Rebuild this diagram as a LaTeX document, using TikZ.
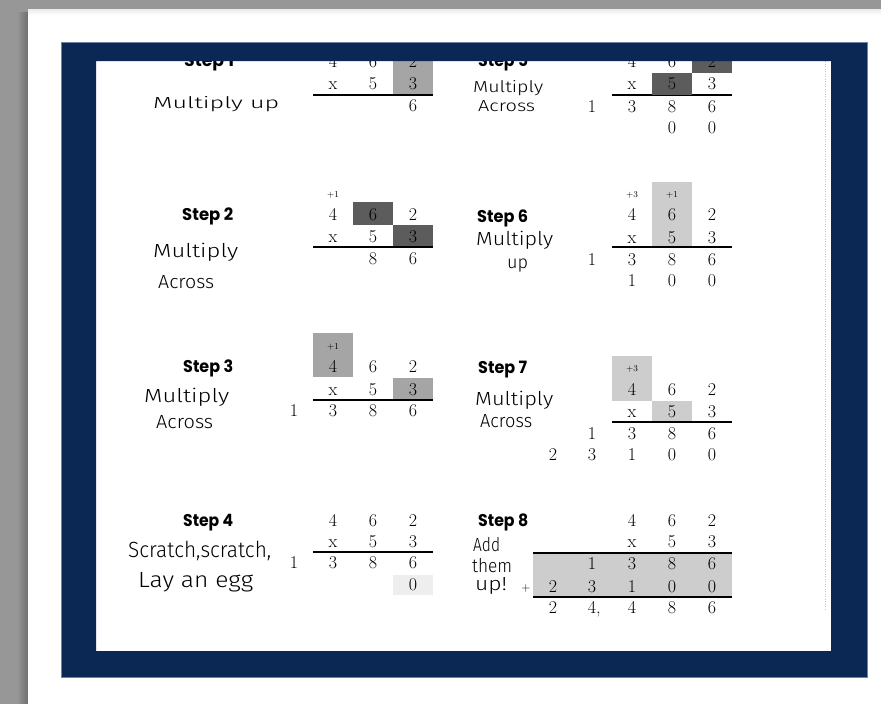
\documentclass[tikz,border=0pt]{standalone}
\usepackage{fontspec}
\usepackage{graphicx}
\setmainfont{Latin Modern Roman}
\newfontfamily\handfont{Fira Sans Light}
\newfontfamily\stepfont{Poppins}
\definecolor{navy}{RGB}{11,39,84}
\definecolor{navyedge}{RGB}{110,130,165}
\definecolor{bggray}{RGB}{151,151,151}
\definecolor{shadowgray}{RGB}{110,110,110}
\definecolor{darkbox}{RGB}{92,92,92}
\definecolor{midbox}{RGB}{165,165,165}
\definecolor{lightbox}{RGB}{205,205,205}
\definecolor{faintbox}{RGB}{238,238,238}
\newcommand{\hw}[2]{\resizebox{#1pt}{\height}{#2}}
\tikzset{
  dig/.style={anchor=base, inner sep=0pt, font=\fontsize{18}{20}\selectfont},
  carry/.style={anchor=center, inner sep=0pt, font=\fontsize{9}{10}\selectfont},
  steplabel/.style={anchor=base west, inner sep=0pt, font=\stepfont\bfseries\fontsize{17}{19}\selectfont},
  hand/.style={anchor=base west, inner sep=0pt, font=\handfont\fontsize{#1}{#1}\selectfont},
  underline/.style={line width=1.1pt, black},
  cellbox/.style={fill=#1, draw=none},
}
\begin{document}
\begin{tikzpicture}[x=1pt,y=-1pt]
\useasboundingbox (0,0) rectangle (881,704);
% background and page
\fill[bggray] (0,0) rectangle (881,704);
\shade[left color=bggray, right color=shadowgray] (17,12) rectangle (28,704);
\fill[white] (28,9) rectangle (881,704);
\shade[top color=black!8, bottom color=white] (28,9) rectangle (881,15);
% faint scan line on the right
\draw[black!25, line width=0.5pt, dotted] (825,61) -- (825,610);

% ---------- shaded cells ----------
% step 1
\fill[cellbox=midbox] (393,48) rectangle (433,96);
% step 2
\fill[cellbox=darkbox] (353,202) rectangle (393,225);
\fill[cellbox=darkbox] (393,225) rectangle (433,247);
% step 3
\fill[cellbox=midbox] (313,333) rectangle (353,377);
\fill[cellbox=midbox] (393,378) rectangle (433,400);
% step 4
\fill[cellbox=faintbox] (393,575) rectangle (433,595);
% step 5
\draw[underline] (612,95) -- (732,95);
\fill[cellbox=darkbox] (692,48) rectangle (732,73);
\fill[cellbox=darkbox] (652,73) rectangle (692,95);
% step 6
\fill[cellbox=lightbox] (652,182) rectangle (692,247);
% step 7
\fill[cellbox=lightbox] (612,356) rectangle (652,401);
\fill[cellbox=lightbox] (652,401) rectangle (692,422);
% step 8
\fill[cellbox=lightbox] (533,553) rectangle (732,597);

% ---------- rules ----------
\draw[underline] (313,95) -- (433,95);
\draw[underline] (313,247) -- (433,247);
\draw[underline] (313,400) -- (433,400);
\draw[underline] (313,552) -- (433,552);
\draw[underline] (612,247) -- (732,247);
\draw[underline] (612,422) -- (732,422);
\draw[underline] (533,553) -- (732,553);
\draw[underline] (533,597) -- (732,597);

% ---------- step labels ----------
\node[steplabel] (st1) at (184,66) {\hw{50}{Step 1}};
\node[steplabel] (st2) at (182,220) {\hw{51}{Step 2}};
\node[steplabel] (st3) at (183,372) {\hw{50}{Step 3}};
\node[steplabel] (st4) at (183,526) {\hw{50}{Step 4}};
\node[steplabel] (st5) at (478,66) {\hw{50}{Step 5}};
\node[steplabel] (st6) at (477,222) {\hw{51}{Step 6}};
\node[steplabel] (st7) at (478,373) {\hw{49}{Step 7}};
\node[steplabel] (st8) at (478,526) {\hw{50}{Step 8}};

% ---------- handwriting ----------
\node[hand=16] (h1a) at (153,108) {\hw{126}{Multiply up}};
\node[hand=19] (h2a) at (153,257) {\hw{85}{Multiply}};
\node[hand=19] (h2b) at (158,288) {\hw{56}{Across}};
\node[hand=19] (h3a) at (144,402) {\hw{85}{Multiply}};
\node[hand=19] (h3b) at (156,428) {\hw{57}{Across}};
\node[hand=22] (h4a) at (128,557) {\hw{143}{Scratch,scratch,}};
\node[hand=22] (h4b) at (138,587) {\hw{115}{Lay an egg}};
\node[hand=16] (h5a) at (473,92) {\hw{70}{Multiply}};
\node[hand=16] (h5b) at (478,111) {\hw{57}{Across}};
\node[hand=19] (h6a) at (476,245) {\hw{77}{Multiply}};
\node[hand=18] (h6b) at (507,268) {\hw{21}{up}};
\node[hand=19] (h7a) at (475,405) {\hw{78}{Multiply}};
\node[hand=19] (h7b) at (480,427) {\hw{52}{Across}};
\node[hand=19] (h8a) at (473,551) {\hw{27}{Add}};
\node[hand=19] (h8b) at (472,572) {\hw{40}{them}};
\node[hand=19] (h8c) at (475,590) {\hw{32}{up!}};

% ---------- digits: left column ----------
% step 1
\foreach \x/\t [count=\i] in {333/4,373/6,413/2} \node[dig] (s1a\i) at (\x,67) {\t};
\foreach \x/\t [count=\i] in {333/x,373/5,413/3} \node[dig] (s1b\i) at (\x,89) {\t};
\node[dig] (s1c1) at (413,111) {6};
% step 2
\node[carry] (s2k) at (333,195) {+1};
\foreach \x/\t [count=\i] in {333/4,373/6,413/2} \node[dig] (s2a\i) at (\x,220) {\t};
\foreach \x/\t [count=\i] in {333/x,373/5,413/3} \node[dig] (s2b\i) at (\x,242) {\t};
\foreach \x/\t [count=\i] in {373/8,413/6} \node[dig] (s2c\i) at (\x,264) {\t};
% step 3
\node[carry] (s3k) at (333,347) {+1};
\foreach \x/\t [count=\i] in {333/4,373/6,413/2} \node[dig] (s3a\i) at (\x,372) {\t};
\foreach \x/\t [count=\i] in {333/x,373/5,413/3} \node[dig] (s3b\i) at (\x,395) {\t};
\foreach \x/\t [count=\i] in {294/1,333/3,373/8,413/6} \node[dig] (s3c\i) at (\x,416) {\t};
% step 4
\foreach \x/\t [count=\i] in {333/4,373/6,413/2} \node[dig] (s4a\i) at (\x,526) {\t};
\foreach \x/\t [count=\i] in {333/x,373/5,413/3} \node[dig] (s4b\i) at (\x,547) {\t};
\foreach \x/\t [count=\i] in {294/1,333/3,373/8,413/6} \node[dig] (s4c\i) at (\x,568) {\t};
\node[dig] (s4d1) at (413,590) {0};

% ---------- digits: right column ----------
% step 5
\foreach \x/\t [count=\i] in {632/4,672/6,712/2} \node[dig] (s5a\i) at (\x,67) {\t};
\foreach \x/\t [count=\i] in {632/x,672/5,712/3} \node[dig] (s5b\i) at (\x,89) {\t};
\foreach \x/\t [count=\i] in {592/1,632/3,672/8,712/6} \node[dig] (s5c\i) at (\x,112) {\t};
\foreach \x/\t [count=\i] in {672/0,712/0} \node[dig] (s5d\i) at (\x,133) {\t};
% step 6
\node[carry] (s6k1) at (632,195) {+3};
\node[carry] (s6k2) at (672,195) {+1};
\foreach \x/\t [count=\i] in {632/4,672/6,712/2} \node[dig] (s6a\i) at (\x,220) {\t};
\foreach \x/\t [count=\i] in {632/x,672/5,712/3} \node[dig] (s6b\i) at (\x,243) {\t};
\foreach \x/\t [count=\i] in {592/1,632/3,672/8,712/6} \node[dig] (s6c\i) at (\x,265) {\t};
\foreach \x/\t [count=\i] in {632/1,672/0,712/0} \node[dig] (s6d\i) at (\x,286) {\t};
% step 7
\node[carry] (s7k) at (632,369) {+3};
\foreach \x/\t [count=\i] in {632/4,672/6,712/2} \node[dig] (s7a\i) at (\x,395) {\t};
\foreach \x/\t [count=\i] in {632/x,672/5,712/3} \node[dig] (s7b\i) at (\x,417) {\t};
\foreach \x/\t [count=\i] in {592/1,632/3,672/8,712/6} \node[dig] (s7c\i) at (\x,439) {\t};
\foreach \x/\t [count=\i] in {553/2,592/3,632/1,672/0,712/0} \node[dig] (s7d\i) at (\x,460) {\t};
% step 8
\foreach \x/\t [count=\i] in {632/4,672/6,712/2} \node[dig] (s8a\i) at (\x,526) {\t};
\foreach \x/\t [count=\i] in {632/x,672/5,712/3} \node[dig] (s8b\i) at (\x,547) {\t};
\foreach \x/\t [count=\i] in {592/1,632/3,672/8,712/6} \node[dig] (s8c\i) at (\x,569) {\t};
\node[carry, font=\fontsize{12}{12}\selectfont] (s8plus) at (526,588) {+};
\foreach \x/\t [count=\i] in {553/2,592/3,632/1,672/0,712/0} \node[dig] (s8d\i) at (\x,592) {\t};
\foreach \x/\t [count=\i] in {553/2,592/{4\rlap{,}},632/4,672/8,712/6} \node[dig] (s8e\i) at (\x,613) {\t};

% ---------- navy frame on top ----------
\fill[navy, even odd rule] (61,42) rectangle (867,677) (96,61) rectangle (831,651);
\draw[navyedge, line width=0.6pt] (61,42) rectangle (867,677);
\end{tikzpicture}
\end{document}
